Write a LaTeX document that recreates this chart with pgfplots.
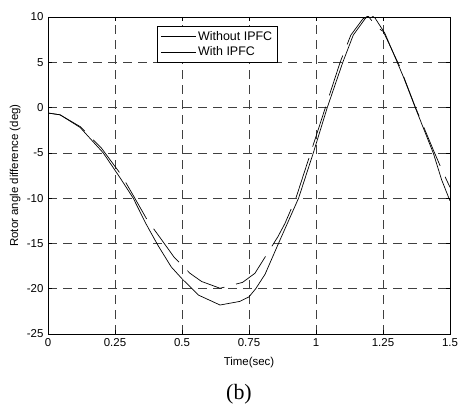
\documentclass[border=0pt]{standalone}
\usepackage{pgfplots}
\pgfplotsset{compat=1.18}
\usepackage{fontspec}
\setmainfont{Liberation Sans}
\newfontfamily\seriffont{Liberation Serif}
\begin{document}
\begin{tikzpicture}
\path[use as bounding box] (-48bp,-73bp) rectangle (413bp,334bp);
\begin{axis}[
  at={(0,0)}, anchor=south west,
  scale only axis, width=402bp, height=317bp,
  xmin=0, xmax=1.5, ymin=-25, ymax=10,
  xtick={0,0.25,0.5,0.75,1,1.25,1.5},
  xticklabels={0,0.25,0.5,0.75,1,1.25,1.5},
  ytick={-25,-20,-15,-10,-5,0,5,10},
  tick align=inside,
  major tick length=4bp,
  tick style={black, line width=0.6pt},
  axis line style={black, line width=0.8pt},
  grid=major,
  major grid style={black!75, line width=0.6pt, dash pattern=on 9bp off 6bp},
  font=\fontsize{11.5}{13}\selectfont,
  /pgf/number format/assume math mode=true,
  xlabel={Time(sec)},
  ylabel={Rotor angle difference (deg)},
  xlabel style={at={(axis description cs:0.5,0)}, anchor=north, yshift=-20bp},
  ylabel style={at={(axis description cs:0,0.5)}, anchor=south, yshift=24bp},
  xticklabel style={yshift=-1bp},
  yticklabel style={xshift=-1bp},
  legend style={at={(axis cs:0.407,9.0)}, anchor=north west, draw=black, line width=0.8pt,
    font=\fontsize{12.5}{14}\selectfont, inner xsep=3bp, inner ysep=3bp, row sep=1bp,
    cells={anchor=west}},
  legend image code/.code={\draw[#1, line width=0.7pt] (0bp,0bp) -- (35bp,0bp);},
  clip=true,
]
\addplot[black, line width=0.7pt, solid] coordinates {
(0,-0.6) (0.045,-0.8) (0.12,-2.2) (0.206,-5) (0.27,-7.8) (0.318,-10)
(0.365,-12.8) (0.41,-15.2) (0.46,-17.6) (0.50,-18.9) (0.561,-20.7)
(0.642,-21.8) (0.716,-21.4) (0.75,-20.9) (0.775,-20.0) (0.81,-18.4)
(0.86,-15.0) (0.935,-10) (0.99,-5) (1.042,0) (1.100,5) (1.139,8.0)
(1.183,9.8) (1.20,10.3) (1.22,9.9) (1.257,8.2) (1.326,3.4) (1.369,0.1)
(1.438,-5.05) (1.469,-8.0) (1.5,-10.3)
};
\addlegendentry{Without IPFC}
\addplot[black, line width=0.7pt, dash pattern=on 42bp off 12bp] coordinates {
(0,-0.6) (0.045,-0.8) (0.12,-2.1) (0.2,-4.5) (0.275,-7.5) (0.32,-9.8)
(0.37,-12.4) (0.424,-14.6) (0.47,-16.5) (0.53,-18.3) (0.573,-19.2)
(0.642,-19.95) (0.726,-19.3) (0.772,-18.3) (0.858,-14.25) (0.884,-12.8)
(0.925,-10) (0.98,-5) (1.035,0) (1.09,5) (1.13,8) (1.175,9.8) (1.195,10.1)
(1.226,8.9) (1.251,8.4) (1.313,4.5) (1.37,0.1) (1.438,-4.7) (1.473,-7.1) (1.5,-8.8)
};
\addlegendentry{With IPFC}
\end{axis}
\node[font=\seriffont\fontsize{22}{24}\selectfont] at (191bp,-60bp) {(b)};
\end{tikzpicture}
\end{document}
